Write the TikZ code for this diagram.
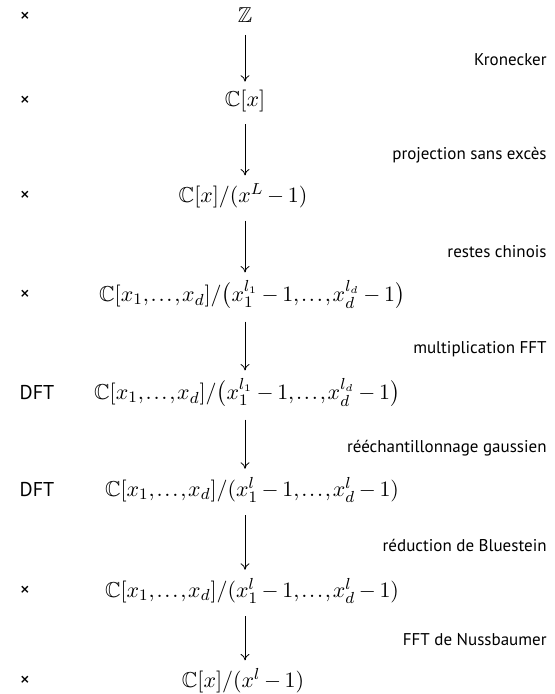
\documentclass[tikz,border=0pt]{standalone}
\usepackage{amsmath,amssymb}
\usepackage{fontspec}
\setsansfont{PT Sans}
\usetikzlibrary{arrows.meta,positioning}
\newcommand\ringfont{\fontsize{10.8}{13}\selectfont\medmuskip=3mu\relax\thinmuskip=1.5mu\relax}

\begin{document}
\begin{tikzpicture}[x=0.5pt,y=-0.5pt,>={To[length=3.2pt,width=4.4pt]}]
  \useasboundingbox (0,0) rectangle (555,694);
  \tikzset{
    ring/.style={inner sep=0pt, font=\ringfont},
    kind/.style={inner sep=0pt, font=\sffamily},
    cross/.style={inner sep=0pt, font=\sffamily},
    reduc/.style={inner sep=0pt, anchor=east, font=\sffamily\fontsize{8.5}{10}\selectfont},
    red arrow/.style={->, shorten <=6pt, shorten >=4pt}
  }
  \node[cross] (k1) at (25,17) {×};
  \node[cross] (k2) at (25,101) {×};
  \node[cross] (k3) at (25,196) {×};
  \node[cross] (k4) at (25,295) {×};
  \node[kind] (k5) at (37,393) {DFT};
  \node[kind] (k6) at (37,490) {DFT};
  \node[cross] (k7) at (25,591) {×};
  \node[cross] (k8) at (25,681) {×};
  \node[ring] (r1) at (245,15) {$\mathbb{Z}$};
  \node[ring] (r2) at (245,101) {$\mathbb{C}[x]$};
  \node[ring] (r3) at (243,196) {$\mathbb{C}[x]/(x^L-1)$};
  \node[ring] (r4) at (252,295) {$\mathbb{C}[x_1,\dots,x_d]/\bigl(x_1^{l_1}-1,\dots,x_d^{l_d}-1\bigr)$};
  \node[ring] (r5) at (247,393) {$\mathbb{C}[x_1,\dots,x_d]/\bigl(x_1^{l_1}-1,\dots,x_d^{l_d}-1\bigr)$};
  \node[ring] (r6) at (252,490) {$\mathbb{C}[x_1,\dots,x_d]/(x_1^{l}-1,\dots,x_d^{l}-1)$};
  \node[ring] (r7) at (252,591) {$\mathbb{C}[x_1,\dots,x_d]/(x_1^{l}-1,\dots,x_d^{l}-1)$};
  \node[ring] (r8) at (243,681) {$\mathbb{C}[x]/(x^l-1)$};
  \draw[red arrow] (r1.south -| 245,0) -- (r2.north -| 245,0);
  \draw[red arrow] (r2.south -| 245,0) -- (r3.north -| 245,0);
  \draw[red arrow] (r3.south -| 245,0) -- (r4.north -| 245,0);
  \draw[red arrow] (r4.south -| 245,0) -- (r5.north -| 245,0);
  \draw[red arrow] (r5.south -| 245,0) -- (r6.north -| 245,0);
  \draw[red arrow] (r6.south -| 245,0) -- (r7.north -| 245,0);
  \draw[red arrow] (r7.south -| 245,0) -- (r8.north -| 245,0);
  \node[reduc] (l1) at (547,60) {Kronecker};
  \node[reduc] (l2) at (547,155) {projection sans excès};
  \node[reduc] (l3) at (547,252) {restes chinois};
  \node[reduc] (l4) at (547,349) {multiplication FFT};
  \node[reduc] (l5) at (547,448) {rééchantillonnage gaussien};
  \node[reduc] (l6) at (547,545) {réduction de Bluestein};
  \node[reduc] (l7) at (547,640) {FFT de Nussbaumer};
\end{tikzpicture}
\end{document}
